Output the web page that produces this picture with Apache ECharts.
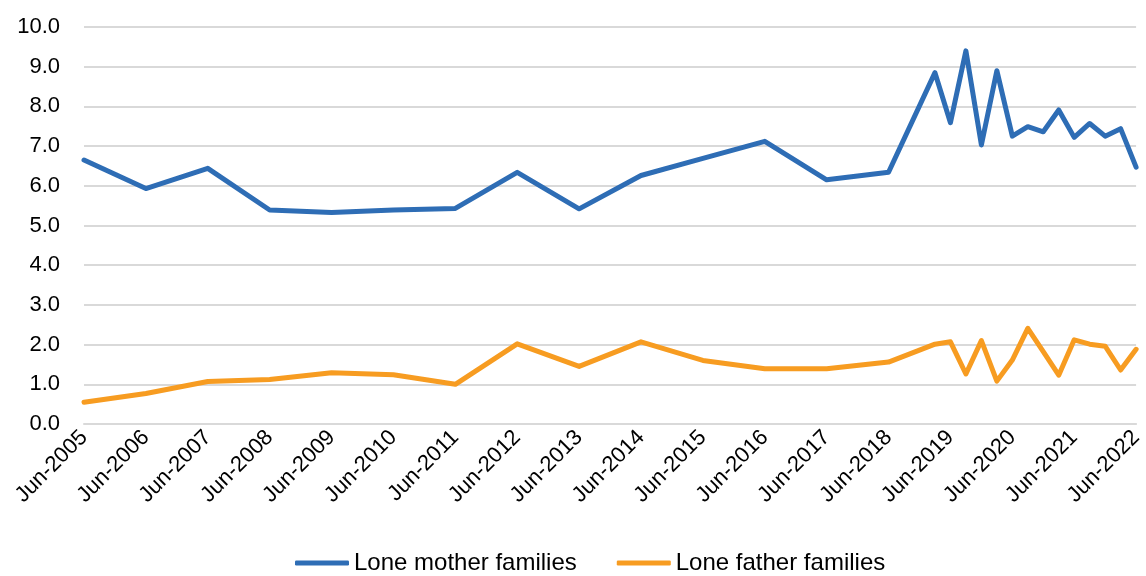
<!DOCTYPE html>
<html>
<head>
<meta charset="utf-8">
<script src="https://cdn.jsdelivr.net/npm/echarts@6/dist/echarts.min.js"></script>
<style>
  html, body { margin: 0; padding: 0; background: #fff; }
  #chart { width: 1146px; height: 576px; }
</style>
</head>
<body>
<div id="chart"></div>
<script>
// dates of each observation (yearly to 2018, then quarterly)
const dates = [
  '2005-06', '2006-06', '2007-06', '2008-06', '2009-06', '2010-06', '2011-06',
  '2012-06', '2013-06', '2014-06', '2015-06', '2016-06', '2017-06', '2018-06',
  '2019-03', '2019-06', '2019-09', '2019-12', '2020-03', '2020-06', '2020-09',
  '2020-12', '2021-03', '2021-06', '2021-09', '2021-12', '2022-03', '2022-06'
];
const loneMother = [
  6.65, 5.93, 6.44, 5.39, 5.33, 5.39, 5.43,
  6.34, 5.42, 6.26, 6.69, 7.12, 6.15, 6.34,
  8.85, 7.59, 9.40, 7.03, 8.90, 7.25, 7.49,
  7.36, 7.91, 7.22, 7.57, 7.25, 7.44, 6.47
];
const loneFather = [
  0.55, 0.77, 1.07, 1.12, 1.29, 1.24, 1.00,
  2.02, 1.45, 2.07, 1.60, 1.39, 1.39, 1.56,
  2.01, 2.07, 1.26, 2.10, 1.08, 1.61, 2.41,
  1.82, 1.23, 2.12, 2.01, 1.96, 1.36, 1.88
];
const firstYear = 2005;
const lastYear = 2022;

// x position in years, June = whole year (matches the Jun-YYYY labels)
const toX = (d) => {
  const [y, m] = d.split('-').map(Number);
  return y + (m - 6) / 12;
};
const pairs = (vals) => vals.map((v, i) => [toX(dates[i]), v]);

const chart = echarts.init(document.getElementById('chart'));
const font = 'Liberation Sans, Arial, sans-serif';

const option = {
  animation: false,
  textStyle: { fontFamily: font },
  grid: { left: 84, right: 4, top: 27, bottom: 152 },
  legend: {
    left: 290,
    top: 546,
    itemWidth: 54,
    itemHeight: 5,
    itemGap: 40,
    icon: 'roundRect',
    textStyle: { fontSize: 24, color: '#000', fontFamily: font },
    data: ['Lone mother families', 'Lone father families']
  },
  xAxis: {
    type: 'value',
    min: firstYear,
    max: lastYear,
    interval: 1,
    axisLine: { show: true, lineStyle: { color: '#d9d9d9', width: 2 } },
    axisTick: { show: false },
    splitLine: { show: false },
    axisLabel: {
      rotate: 45,
      margin: 10,
      fontSize: 22,
      color: '#000',
      fontFamily: font,
      formatter: (v) => 'Jun-' + v
    }
  },
  yAxis: {
    type: 'value',
    min: 0,
    max: 10,
    interval: 1,
    axisLine: { show: false },
    axisTick: { show: false },
    splitLine: { lineStyle: { color: '#d9d9d9', width: 2 } },
    axisLabel: {
      margin: 24,
      fontSize: 22,
      color: '#000',
      fontFamily: font,
      formatter: (v) => v.toFixed(1)
    }
  },
  series: [
    {
      name: 'Lone mother families',
      type: 'line',
      data: pairs(loneMother),
      symbol: 'none',
      lineStyle: { color: '#2E6DB5', width: 5, cap: 'round', join: 'round' },
      itemStyle: { color: '#2E6DB5' }
    },
    {
      name: 'Lone father families',
      type: 'line',
      data: pairs(loneFather),
      symbol: 'none',
      lineStyle: { color: '#F79C21', width: 5, cap: 'round', join: 'round' },
      itemStyle: { color: '#F79C21' }
    }
  ]
};

chart.setOption(option);
</script>
</body>
</html>
